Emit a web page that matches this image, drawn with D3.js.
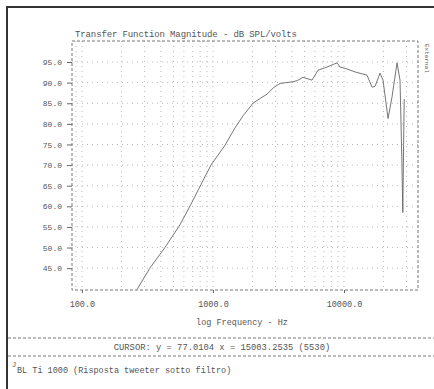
<!DOCTYPE html>
<html>
<head>
<meta charset="utf-8">
<script src="https://cdn.jsdelivr.net/npm/d3@7"></script>
<style>
  body { margin: 0; background: #fff; }
  svg { display: block; }
  text { font-family: "Liberation Mono", "DejaVu Sans Mono", monospace; fill: #555; }
</style>
</head>
<body>
<svg width="434" height="389"></svg>
<script>
const freq = [263, 330, 430, 560, 679, 810, 966, 1235, 1472, 1700, 2020, 2300, 2584, 2900, 3247, 3600,
              4080, 4400, 4865, 5700, 6335, 7420, 8850, 9320, 10550, 12130, 14990, 16360, 17250,
              18830, 19850, 21670, 23240, 25400, 26760, 27600, 28100, 28500, 28800];
const spl  = [39.8, 45, 50, 55.5, 60.5, 65.3, 70, 74.8, 79, 82, 85, 86.2, 87.2, 88.8, 89.8, 90,
              90.2, 90.5, 91.3, 90.6, 93, 93.8, 94.8, 93.8, 93.3, 92.6, 91.8, 88.9, 89.1,
              92.3, 90.6, 81.3, 86.5, 94.8, 90.6, 72, 58.5, 75, 86];

const yTicks = [45, 50, 55, 60, 65, 70, 75, 80, 85, 90, 95];
const xTicks = [100, 1000, 10000];
const xGrid = [90, 100, 200, 300, 400, 500, 600, 700, 800, 900, 1000, 2000, 3000, 4000, 5000,
               6000, 7000, 8000, 9000, 10000, 20000, 30000];

const titleText = "Transfer Function Magnitude - dB SPL/volts";
const xLabel = "log Frequency - Hz";
const cursorText = "CURSOR: y = 77.0104 x = 15003.2535 (5530)";
const noteText = "BL Ti 1000 (Risposta tweeter sotto filtro)";
const sideText = "External";

const svg = d3.select('svg');
const width = +svg.attr('width');
const height = +svg.attr('height');

const plot = {left: 72, right: 418, top: 41, bottom: 290};

const xScale = d3.scaleLog()
    .domain([84, 36700])
    .range([plot.left, plot.right]);
const yScale = d3.scaleLinear()
    .domain([39.7, 100.1])
    .range([plot.bottom, plot.top]);

// outer frame (top + left)
svg.append('path')
    .attr('d', `M7,${height} L7,7 L${width},7`)
    .attr('fill', 'none')
    .attr('stroke', '#333')
    .attr('stroke-width', 2);

// grid, very faint dotted
svg.append('g').selectAll('line')
    .data(yTicks)
    .enter().append('line')
    .attr('x1', plot.left).attr('x2', plot.right)
    .attr('y1', d => yScale(d)).attr('y2', d => yScale(d))
    .attr('stroke', '#bbb')
    .attr('stroke-dasharray', '1,4');

svg.append('g').selectAll('line')
    .data(xGrid)
    .enter().append('line')
    .attr('x1', d => xScale(d)).attr('x2', d => xScale(d))
    .attr('y1', plot.top).attr('y2', plot.bottom)
    .attr('stroke', '#bbb')
    .attr('stroke-dasharray', '1,4');

// plot frame, dashed
svg.append('rect')
    .attr('x', plot.left).attr('y', plot.top)
    .attr('width', plot.right - plot.left)
    .attr('height', plot.bottom - plot.top)
    .attr('fill', 'none')
    .attr('stroke', '#777')
    .attr('stroke-dasharray', '3,2');

// axes
const yAxis = svg.append('g')
    .attr('transform', `translate(${plot.left},0)`)
    .call(d3.axisLeft(yScale).tickValues(yTicks).tickFormat(d3.format('.1f')).tickSize(5).tickPadding(5));
yAxis.select('.domain').remove();
yAxis.selectAll('line').attr('stroke', '#666');
yAxis.selectAll('text').attr('font-size', 8).attr('fill', '#555')
    .style('font-family', '"Liberation Mono", monospace');

const xAxis = svg.append('g')
    .attr('transform', `translate(0,${plot.bottom})`)
    .call(d3.axisBottom(xScale).tickValues(xTicks).tickFormat(d3.format('.1f')).tickSize(3).tickPadding(8));
xAxis.select('.domain').remove();
xAxis.selectAll('line').attr('stroke', '#666');
xAxis.selectAll('text').attr('font-size', 8.5).attr('fill', '#555')
    .style('font-family', '"Liberation Mono", monospace');

// curve
const line = d3.line()
    .x((d, i) => xScale(freq[i]))
    .y(d => yScale(d));

svg.append('path')
    .datum(spl)
    .attr('d', line)
    .attr('fill', 'none')
    .attr('stroke', '#666')
    .attr('stroke-width', 0.9);

// texts
svg.append('text')
    .attr('x', 75).attr('y', 37)
    .attr('font-size', 9)
    .attr('textLength', 222)
    .text(titleText);

svg.append('text')
    .attr('x', 425).attr('y', 44)
    .attr('font-size', 6)
    .attr('transform', 'rotate(90,425,44)')
    .text(sideText);

svg.append('text')
    .attr('x', 242).attr('y', 325)
    .attr('text-anchor', 'middle')
    .attr('font-size', 8.5)
    .text(xLabel);

[338, 356].forEach(y => {
    svg.append('line')
        .attr('x1', 8).attr('x2', width)
        .attr('y1', y).attr('y2', y)
        .attr('stroke', '#777')
        .attr('stroke-dasharray', '3,2');
});

svg.append('text')
    .attr('x', 222).attr('y', 350)
    .attr('text-anchor', 'middle')
    .attr('font-size', 8.8)
    .text(cursorText);

svg.append('text')
    .attr('x', 12).attr('y', 367)
    .attr('font-size', 7)
    .text('J');
svg.append('text')
    .attr('x', 17).attr('y', 373)
    .attr('font-size', 8.5)
    .text(noteText);
</script>
</body>
</html>
